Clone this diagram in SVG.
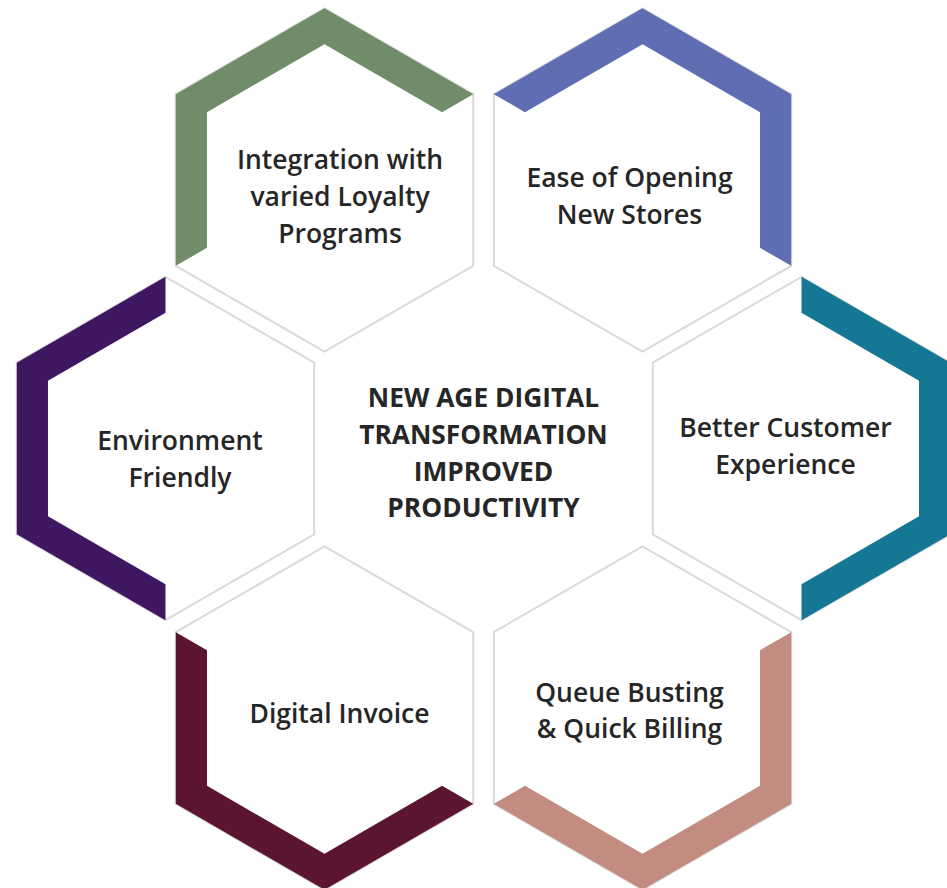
<svg xmlns="http://www.w3.org/2000/svg" xmlns:xlink="http://www.w3.org/1999/xlink" width="947" height="888" viewBox="0 0 947 888">
  <style>
    .hex { fill: #ffffff; stroke: #d9d9d9; stroke-width: 2; }
    .lbl { font-family: "Open Sans", "Noto Sans", "Liberation Sans", sans-serif; font-size: 26.5px; font-weight: 600; fill: #262626; text-anchor: middle; }
    .ctr { font-family: "Open Sans", "Noto Sans", "Liberation Sans", sans-serif; font-size: 26.3px; font-weight: 700; fill: #262626; text-anchor: middle; }
  </style>
  <defs>
    <polygon id="hexShape" points="148.7,85.85 0,171.7 -148.7,85.85 -148.7,-85.85 0,-171.7 148.7,-85.85"/>
    <polygon id="band" points="-148.7,85.85 -148.7,-85.85 0,-171.7 148.7,-85.85 117.52,-67.85 0,-135.7 -117.52,-67.85 -117.52,67.85"/>
  </defs>
  <rect width="947" height="888" fill="#ffffff"/>

  <g id="node-loyalty">
    <use xlink:href="#hexShape" href="#hexShape" class="hex" transform="translate(324.5,180)"/>
    <use xlink:href="#band" href="#band" fill="#708c69" transform="translate(324.5,180)"/>
    <text class="lbl" x="340" y="168.5">Integration with</text>
    <text class="lbl" x="340" y="205.5">varied Loyalty</text>
    <text class="lbl" x="340" y="242.5">Programs</text>
  </g>

  <g id="node-stores">
    <use xlink:href="#hexShape" href="#hexShape" class="hex" transform="translate(642.5,180)"/>
    <use xlink:href="#band" href="#band" fill="#5f6db3" transform="translate(642.5,180) rotate(60)"/>
    <text class="lbl" x="629.5" y="187">Ease of Opening</text>
    <text class="lbl" x="629.5" y="223.5">New Stores</text>
  </g>

  <g id="node-environment">
    <use xlink:href="#hexShape" href="#hexShape" class="hex" transform="translate(165.5,448.5)"/>
    <use xlink:href="#band" href="#band" fill="#3f1760" transform="translate(165.5,448.5) rotate(300)"/>
    <text class="lbl" x="180" y="450">Environment</text>
    <text class="lbl" x="180" y="486.5">Friendly</text>
  </g>

  <g id="node-customer">
    <use xlink:href="#hexShape" href="#hexShape" class="hex" transform="translate(801.5,448.5)"/>
    <use xlink:href="#band" href="#band" fill="#147894" transform="translate(801.5,448.5) rotate(120)"/>
    <text class="lbl" x="785.5" y="437">Better Customer</text>
    <text class="lbl" x="785.5" y="473.5">Experience</text>
  </g>

  <g id="node-invoice">
    <use xlink:href="#hexShape" href="#hexShape" class="hex" transform="translate(324.5,718)"/>
    <use xlink:href="#band" href="#band" fill="#5c1530" transform="translate(324.5,718) rotate(240)"/>
    <text class="lbl" x="339.5" y="722.5">Digital Invoice</text>
  </g>

  <g id="node-queue">
    <use xlink:href="#hexShape" href="#hexShape" class="hex" transform="translate(642.5,718)"/>
    <use xlink:href="#band" href="#band" fill="#c38c80" transform="translate(642.5,718) rotate(180)"/>
    <text class="lbl" x="629.5" y="701.5">Queue Busting</text>
    <text class="lbl" x="629.5" y="738">&amp; Quick Billing</text>
  </g>

  <g id="node-center">
    <text class="ctr" x="483.5" y="406.5">NEW AGE DIGITAL</text>
    <text class="ctr" x="483.5" y="444">TRANSFORMATION</text>
    <text class="ctr" x="483.5" y="480.5">IMPROVED</text>
    <text class="ctr" x="483.5" y="516.5">PRODUCTIVITY</text>
  </g>

  <g id="connectors"></g>
</svg>
